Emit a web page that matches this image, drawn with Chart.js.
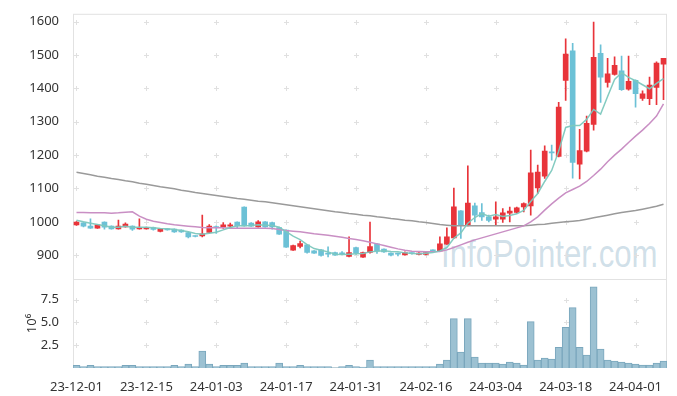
<!DOCTYPE html>
<html>
<head>
<meta charset="utf-8">
<script src="https://cdn.jsdelivr.net/npm/chart.js@4"></script>
<style>
  html, body { margin: 0; padding: 0; background: #fff; }
  #wrap { position: relative; width: 677px; height: 396px; }
  #wm {
    position: absolute; left: 441px; top: 235px;
    font: 38px/1 "Liberation Sans", sans-serif;
    color: rgba(150, 185, 205, 0.45);
    transform: scaleX(0.82); transform-origin: left top;
    white-space: nowrap;
  }
  canvas { position: absolute; left: 0; top: 0; }
</style>
</head>
<body>
<div id="wrap">
  <div id="wm">InfoPointer.com</div>
  <canvas id="chart" width="677" height="396"></canvas>
</div>
<script>
// trading days (yy-mm-dd)
const dates = [
  '23-12-01','23-12-04','23-12-05','23-12-06','23-12-07','23-12-08','23-12-11','23-12-12','23-12-13','23-12-14',
  '23-12-15','23-12-18','23-12-19','23-12-20','23-12-21','23-12-22','23-12-26','23-12-27','23-12-28','24-01-02',
  '24-01-03','24-01-04','24-01-05','24-01-08','24-01-09','24-01-10','24-01-11','24-01-12','24-01-15','24-01-16',
  '24-01-17','24-01-18','24-01-19','24-01-22','24-01-23','24-01-24','24-01-25','24-01-26','24-01-29','24-01-30',
  '24-01-31','24-02-01','24-02-02','24-02-05','24-02-06','24-02-07','24-02-08','24-02-13','24-02-14','24-02-15',
  '24-02-16','24-02-19','24-02-20','24-02-21','24-02-22','24-02-23','24-02-26','24-02-27','24-02-28','24-02-29',
  '24-03-04','24-03-05','24-03-06','24-03-07','24-03-08','24-03-11','24-03-12','24-03-13','24-03-14','24-03-15',
  '24-03-18','24-03-19','24-03-20','24-03-21','24-03-22','24-03-25','24-03-26','24-03-27','24-03-28','24-03-29',
  '24-04-01','24-04-02','24-04-03','24-04-04','24-04-05'
];

const open = [
  991, 997, 987, 981, 999, 987, 979, 985, 987, 979,
  979, 983, 971, 979, 978, 975, 968, 957, 958, 968,
  985, 985, 987, 999, 1044, 996, 985, 1000, 998, 983,
  975, 915, 926, 931, 913, 916, 906, 908, 906, 896,
  923, 894, 908, 934, 918, 906, 904, 901, 906, 902,
  902, 915, 913, 933, 952, 1033, 990, 1048, 1028, 1015,
  1008, 1008, 1026, 1028, 1045, 1048, 1102, 1137, 1210, 1196,
  1424, 1513, 1173, 1212, 1292, 1505, 1418, 1442, 1453, 1398,
  1424, 1370, 1369, 1403, 1473
];
const high = [
  1001, 998, 1009, 992, 1000, 988, 1005, 997, 988, 1009,
  984, 984, 980, 980, 979, 976, 969, 958, 1020, 992,
  988, 998, 996, 1000, 1045, 998, 1004, 1001, 999, 984,
  976, 930, 942, 932, 914, 917, 925, 909, 911, 955,
  924, 909, 999, 935, 919, 907, 906, 910, 907, 908,
  910, 916, 955, 982, 1101, 1034, 1168, 1056, 1055, 1020,
  1060, 1040, 1044, 1044, 1057, 1215, 1170, 1228, 1230, 1358,
  1549, 1535, 1277, 1317, 1599, 1531, 1490, 1495, 1497, 1497,
  1426, 1393, 1434, 1480, 1490
];
const low = [
  989, 985, 980, 980, 978, 978, 978, 984, 974, 978,
  978, 975, 970, 975, 968, 968, 952, 955, 955, 967,
  965, 980, 984, 980, 987, 986, 984, 984, 978, 962,
  923, 914, 922, 906, 905, 897, 895, 899, 901, 895,
  902, 893, 906, 905, 908, 898, 898, 900, 903, 901,
  901, 910, 912, 932, 950, 950, 988, 1000, 1004, 1000,
  990, 998, 1000, 1025, 1030, 1020, 1085, 1130, 1185, 1195,
  1364, 1131, 1129, 1210, 1275, 1358, 1404, 1440, 1394, 1395,
  1344, 1364, 1351, 1351, 1366
];
const close = [
  999, 987, 981, 991, 984, 979, 987, 993, 978, 981,
  983, 977, 979, 976, 970, 970, 955, 956, 964, 987,
  983, 991, 991, 988, 988, 987, 1000, 985, 985, 963,
  924, 929, 935, 908, 906, 899, 903, 900, 904, 908,
  906, 908, 926, 913, 910, 900, 903, 908, 905, 906,
  908, 913, 934, 955, 1045, 990, 1056, 1020, 1015, 1004,
  1015, 1027, 1032, 1042, 1055, 1147, 1149, 1212, 1207, 1344,
  1503, 1178, 1214, 1295, 1493, 1434, 1444, 1469, 1396, 1421,
  1384, 1384, 1410, 1476, 1490
];

// volume, in millions of shares
const volume = [
  0.3, 0.15, 0.3, 0.15, 0.15, 0.15, 0.15, 0.3, 0.3, 0.15,
  0.15, 0.15, 0.15, 0.15, 0.3, 0.15, 0.43, 0.15, 1.85, 0.43,
  0.15, 0.3, 0.3, 0.3, 0.54, 0.15, 0.15, 0.15, 0.15, 0.54,
  0.15, 0.15, 0.3, 0.15, 0.15, 0.15, 0.15, 0.02, 0.15, 0.3,
  0.15, 0.1, 0.87, 0.15, 0.15, 0.15, 0.15, 0.15, 0.15, 0.15,
  0.15, 0.15, 0.43, 0.87, 5.43, 1.74, 5.43, 1.2, 0.54, 0.54,
  0.54, 0.43, 0.65, 0.54, 0.33, 5.1, 0.87, 1.09, 0.98, 2.28,
  4.46, 6.63, 2.28, 1.41, 8.91, 2.07, 0.87, 0.76, 0.65, 0.54,
  0.43, 0.33, 0.33, 0.54, 0.76
];

// moving averages as drawn
const ma5 = [
  1005, 1000, 996, 992, 988, 984, 984, 987, 984, 984,
  984, 982, 980, 979, 977, 974, 970, 965, 963, 966,
  969, 976, 983, 988, 988, 989, 991, 990, 989, 984,
  971, 957, 947, 932, 920, 915, 910, 903, 902, 903,
  904, 905, 910, 912, 913, 911, 910, 907, 905, 904,
  906, 908, 913, 923, 951, 967, 996, 1013, 1025, 1017,
  1022, 1016, 1019, 1024, 1034, 1061, 1085, 1121, 1154, 1212,
  1283, 1289, 1289, 1307, 1337, 1323, 1376, 1427, 1447, 1433,
  1423, 1411, 1399, 1415, 1429
];
const ma20 = [
  1028, 1028, 1027, 1027, 1027, 1026, 1027, 1029, 1030, 1017,
  1008, 1002, 998, 994, 991, 989, 987, 985, 983, 982,
  982, 982, 981, 981, 981, 981, 981, 981, 980, 977,
  974, 972, 970, 967, 964, 962, 960, 957, 954, 950,
  947, 943, 939, 934, 929, 924, 919, 915, 912, 911,
  910, 910, 911, 916, 923, 931, 939, 946, 952, 958,
  964, 970, 976, 982, 988, 1000, 1015, 1035, 1054, 1071,
  1087, 1097, 1107, 1121, 1139, 1158, 1180, 1200, 1218, 1238,
  1257, 1275, 1295, 1317, 1354
];
const ma60 = [
  1149, 1145, 1141, 1137, 1134, 1130, 1127, 1123, 1120, 1116,
  1113, 1109, 1105, 1102, 1099, 1095, 1092, 1088, 1085, 1082,
  1079, 1076, 1073, 1070, 1068, 1065, 1062, 1060, 1057, 1054,
  1051, 1048, 1045, 1042, 1039, 1036, 1033, 1030, 1028, 1025,
  1023, 1020, 1018, 1015, 1013, 1010, 1008, 1005, 1003, 1000,
  998, 995, 992, 990, 988, 988, 988, 988, 988, 988,
  988, 988, 988, 988, 988, 990, 992, 993, 996, 998,
  1000, 1002, 1004, 1008, 1012, 1016, 1020, 1024, 1028, 1031,
  1034, 1038, 1042, 1047, 1053
];

const priceTicks = [900, 1000, 1100, 1200, 1300, 1400, 1500, 1600];
const volTicks = [2.5, 5, 7.5];

const RED = '#e8343a';
const BLUE = '#6cc1d6';
const candleColors = close.map((c, i) => c >= open[i] ? RED : BLUE);

Chart.defaults.font.family = '"Noto Sans", sans-serif';
Chart.defaults.font.size = 13;
Chart.defaults.color = '#333';

// light "+" marks at grid intersections plus the panel frame
const gridMarks = {
    id: 'gridMarks',
    beforeDatasetsDraw(chart) {
        const { ctx, chartArea: a, scales } = chart;
        const xs = [];
        for (let i = 0; i < dates.length; i += 10) xs.push(Math.round(scales.x.getPixelForValue(i)) + 0.5);
        const ys = priceTicks.map(v => Math.round(scales.y.getPixelForValue(v)) + 0.5)
            .concat(volTicks.map(v => Math.round(scales.yv.getPixelForValue(v)) + 0.5));
        ctx.save();
        ctx.strokeStyle = '#e0e0e0';
        ctx.lineWidth = 1;
        ctx.beginPath();
        xs.forEach(px => ys.forEach(py => {
            ctx.moveTo(px - 2.5, py); ctx.lineTo(px + 2.5, py);
            ctx.moveTo(px, py - 2.5); ctx.lineTo(px, py + 2.5);
        }));
        ctx.stroke();

        ctx.strokeStyle = '#e2e2e2';
        ctx.strokeRect(a.left + 0.5, a.top + 0.5, a.right - a.left - 1, a.bottom - a.top - 1);
        const mid = Math.round(scales.y.bottom) + 0.5;
        ctx.beginPath();
        ctx.moveTo(a.left, mid); ctx.lineTo(a.right, mid);
        ctx.stroke();
        ctx.restore();
    }
};

new Chart(document.getElementById('chart'), {
    type: 'bar',
    data: {
        labels: dates,
        datasets: [
            { type: 'line', label: 'MA5', data: ma5, yAxisID: 'y', borderColor: 'rgba(125,200,190,0.95)', borderWidth: 1.5, pointRadius: 0, tension: 0, order: 0 },
            { type: 'line', label: 'MA20', data: ma20, yAxisID: 'y', borderColor: '#c98fc4', borderWidth: 1.5, pointRadius: 0, tension: 0, order: 0 },
            { type: 'line', label: 'MA60', data: ma60, yAxisID: 'y', borderColor: '#9a9a9a', borderWidth: 1.5, pointRadius: 0, tension: 0, order: 0 },
            { label: 'body', data: open.map((o, i) => [o, close[i]]), yAxisID: 'y', backgroundColor: candleColors, barThickness: 5, minBarLength: 1, grouped: false, order: 1 },
            { label: 'wick', data: low.map((l, i) => [l, high[i]]), yAxisID: 'y', backgroundColor: candleColors, barThickness: 1, grouped: false, order: 2 },
            { label: 'volume', data: volume, yAxisID: 'yv', backgroundColor: '#9cc1d2', borderColor: '#7aa7bd', borderWidth: 1, barPercentage: 1, categoryPercentage: 1, grouped: false, order: 3 }
        ]
    },
    options: {
        responsive: false,
        animation: false,
        layout: { padding: { top: 10, right: 10, left: 0, bottom: 0 } },
        plugins: { legend: { display: false }, tooltip: { enabled: false } },
        scales: {
            x: {
                offset: true,
                grid: { display: false },
                border: { display: false },
                ticks: {
                    autoSkip: false, maxRotation: 0, padding: 3,
                    callback: (v, i) => i % 10 === 0 ? dates[i] : ''
                },
                afterFit: s => { s.height = 28; }
            },
            yv: {
                position: 'left', stack: 'panes', stackWeight: 90,
                min: 0, max: 9.78,
                grid: { display: false }, border: { display: false },
                ticks: { padding: 6, callback: v => v.toFixed(1) },
                afterBuildTicks: s => { s.ticks = volTicks.map(v => ({ value: v })); },
                title: { display: true, text: '10⁶', padding: { top: 24, bottom: 0 } },
                afterFit: s => { s.width = 73; }
            },
            y: {
                position: 'left', stack: 'panes', stackWeight: 268,
                min: 828.8, max: 1623.7,
                grid: { display: false }, border: { display: false },
                ticks: { padding: 6, callback: v => String(v) },
                afterBuildTicks: s => { s.ticks = priceTicks.map(v => ({ value: v })); },
                afterFit: s => { s.width = 73; }
            }
        }
    },
    plugins: [gridMarks]
});
</script>
</body>
</html>
